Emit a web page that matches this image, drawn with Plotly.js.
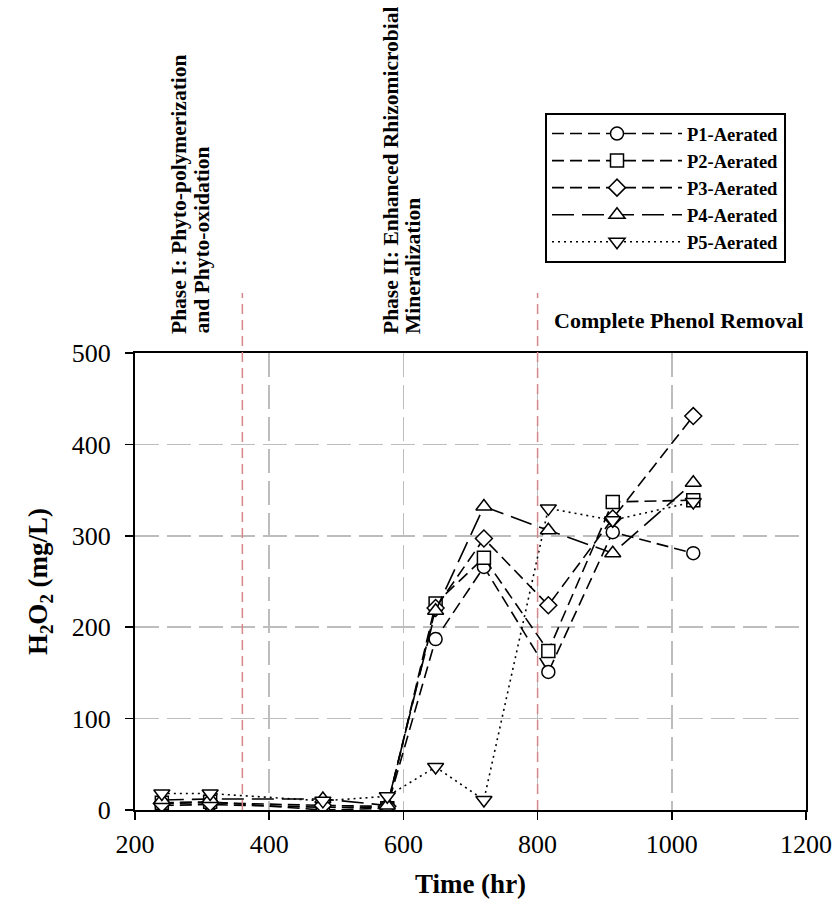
<!DOCTYPE html>
<html>
<head>
<meta charset="utf-8">
<script src="https://cdn.plot.ly/plotly-3.0.1.min.js"></script>
<style>html,body{margin:0;padding:0;background:#fff;}#chart{width:840px;height:912px;}</style>
</head>
<body>
<div id="chart"></div>
<script>
// Time (hr)
const time = [240, 312, 480, 576, 648, 720, 816, 912, 1032];
// H2O2 (mg/L) per planted reactor
const p1 = [5, 6, 3, 3, 187, 266, 151, 304, 281];
const p2 = [8, 9, 0, 2, 226, 276, 174, 337, 339];
const p3 = [7, 8, 5, 4, 221, 297, 224, 319, 431];
const p4 = [11, 12, 12, 5, 218, 332, 306, 281, 358];
const p5 = [18, 18, 10, 15, 47, 11, 330, 317, 337];

const seriesNames = ['P1-Aerated', 'P2-Aerated', 'P3-Aerated', 'P4-Aerated', 'P5-Aerated'];
const seriesValues = [p1, p2, p3, p4, p5];
const seriesSymbols = ['circle', 'square', 'diamond', 'triangle-up', 'triangle-down'];
const seriesDash = ['12px,6px', '12px,6px', '12px,6px', '22px,8px', '2px,4px'];

// Phase boundaries (hr)
const phaseBounds = [360, 800];

const FONT = 'Liberation Serif, Times New Roman, serif';

const traces = seriesNames.map((name, i) => ({
  x: time,
  y: seriesValues[i],
  name: name,
  type: 'scatter',
  mode: 'lines+markers',
  line: {color: 'black', width: 1.6, dash: seriesDash[i]},
  marker: {
    symbol: seriesSymbols[i],
    size: i >= 3 ? 14 : 13,
    color: 'white',
    line: {color: 'black', width: 1.5}
  }
}));

const pxX = px => (px - 135) / 671;
const pxY = py => (810 - py) / 457;

const layout = {
  width: 840,
  height: 912,
  margin: {l: 135, r: 34, t: 353, b: 102},
  paper_bgcolor: 'white',
  plot_bgcolor: 'white',
  font: {family: FONT, color: 'black'},
  showlegend: true,
  legend: {
    x: pxX(545), y: pxY(113), xanchor: 'left', yanchor: 'top',
    bgcolor: 'white', bordercolor: 'black', borderwidth: 2,
    font: {family: FONT, size: 18.5, weight: 'bold', color: 'black'},
    itemwidth: 130, tracegroupgap: 0
  },
  xaxis: {
    range: [200, 1200], dtick: 200, tick0: 200,
    showline: true, linecolor: 'black', linewidth: 2, mirror: true,
    ticks: 'outside', ticklen: 8, tickwidth: 1.5, tickcolor: 'black',
    tickfont: {family: FONT, size: 26, color: 'black'},
    ticklabelstandoff: 2,
    showgrid: true, gridcolor: '#bdbdbd', gridwidth: 1.5, griddash: '24px,8px',
    zeroline: false,
    title: {text: 'Time (hr)', font: {family: FONT, size: 27, weight: 'bold', color: 'black'}, standoff: 16}
  },
  yaxis: {
    range: [0, 500], dtick: 100,
    showline: true, linecolor: 'black', linewidth: 2, mirror: true,
    ticks: 'outside', ticklen: 8, tickwidth: 1.5, tickcolor: 'black',
    tickfont: {family: FONT, size: 26, color: 'black'},
    ticklabelstandoff: 9,
    showgrid: true, gridcolor: '#bdbdbd', gridwidth: 1.5, griddash: '24px,8px',
    zeroline: false,
    title: {text: 'H<sub>2</sub>O<sub>2</sub> (mg/L)', font: {family: FONT, size: 27, weight: 'bold', color: 'black'}, standoff: 16}
  },
  shapes: phaseBounds.map(b => ({
    type: 'line', xref: 'x', yref: 'paper', x0: b, x1: b, y0: 0, y1: pxY(293),
    line: {color: '#d9868a', width: 1.5, dash: '10px,6px'}, layer: 'above'
  })),
  annotations: [
    {text: 'Phase I: Phyto-polymerization', x: pxX(179), y: pxY(336)},
    {text: 'and Phyto-oxidation', x: pxX(202), y: pxY(336)},
    {text: 'Phase II: Enhanced Rhizomicrobial', x: pxX(391), y: pxY(336)},
    {text: 'Mineralization', x: pxX(413), y: pxY(336)}
  ].map(a => Object.assign(a, {
    xref: 'paper', yref: 'paper', textangle: -90, showarrow: false,
    xanchor: 'center', yanchor: 'bottom',
    font: {family: FONT, size: 21.5, weight: 'bold', color: 'black'}
  })).concat([{
    text: 'Complete Phenol Removal', xref: 'paper', yref: 'paper',
    x: pxX(552), y: pxY(320), xanchor: 'left', yanchor: 'middle', showarrow: false,
    font: {family: FONT, size: 22, weight: 'bold', color: 'black'}
  }])
};

Plotly.newPlot('chart', traces, layout, {displayModeBar: false, staticPlot: true});
</script>
</body>
</html>
